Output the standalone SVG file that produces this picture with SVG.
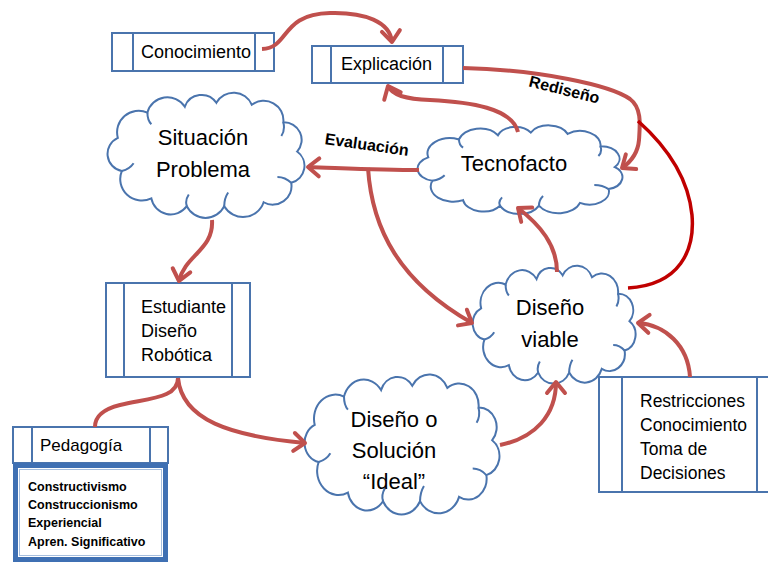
<svg xmlns="http://www.w3.org/2000/svg" width="768" height="562" viewBox="0 0 768 562">
  <style>
    .box { fill: #ffffff; stroke: #4A74AD; stroke-width: 2; }
    .bar { fill: none; stroke: #4A74AD; stroke-width: 2; }
    .cloud { fill: #ffffff; stroke: #4A74AD; stroke-width: 2; }
    .curl { fill: none; stroke: #4A74AD; stroke-width: 2; }
    .t { font-family: "Liberation Sans", Arial, sans-serif; fill: #000000; }
    .lbl { font-family: "Liberation Sans", Arial, sans-serif; font-weight: bold; font-size: 16px; fill: #000000; }
    .ed { fill: none; stroke: #C0504D; stroke-width: 4; stroke-linecap: butt; }
    .dark { fill: none; stroke: #C00000; stroke-width: 3.5; }
  </style>
  <defs>
    <marker id="arr" markerUnits="userSpaceOnUse" markerWidth="20" markerHeight="24" viewBox="-14 -12 18 24" refX="0" refY="0" orient="auto" style="overflow:visible">
      <path d="M -11 -9 L 0 0 L -11 9" fill="none" stroke="#C0504D" stroke-width="4" stroke-linejoin="round" stroke-linecap="round"/>
    </marker>
    <!-- cloud outline in a 200 x 120 box -->
    <path id="cloudShape" vector-effect="non-scaling-stroke" d="M 14 78 A 18 18 0 0 1 10 44 A 22 22 0 0 1 40 18 A 21 21 0 0 1 78 12 A 18 18 0 0 1 110 8 A 20 20 0 0 1 146 10 A 20 20 0 0 1 178 28 A 18 18 0 0 1 192 58 A 18 18 0 0 1 186 90 A 19 19 0 0 1 158 110 A 22 22 0 0 1 118 114 A 21 21 0 0 1 80 114 A 20 20 0 0 1 44 106 A 22 22 0 0 1 14 78 Z"/>
    <path id="cloudCurl" vector-effect="non-scaling-stroke" d="M 14 78 Q 22 76 26 70 M 40 18 Q 40 26 44 30 M 178 28 Q 180 36 176 42 M 186 90 Q 180 84 172 84 M 118 114 Q 118 106 122 100 M 80 114 Q 78 108 82 102"/>
  </defs>

  <!-- nodes -->
  <g id="conocimiento">
    <rect class="box" x="112" y="33" width="162" height="38"/>
    <path class="bar" d="M 133 33 V 71 M 255 33 V 71"/>
    <text class="t" x="141" y="58" font-size="18">Conocimiento</text>
  </g>

  <g id="explicacion">
    <rect class="box" x="312" y="46" width="151" height="37"/>
    <path class="bar" d="M 331 46 V 83 M 443 46 V 83"/>
    <text class="t" x="341" y="70" font-size="18">Explicación</text>
  </g>

  <g id="situacion-problema">
    <use href="#cloudShape" class="cloud" transform="translate(108 95) scale(0.985 0.975)"/>
    <use href="#cloudCurl" class="curl" transform="translate(108 95) scale(0.985 0.975)"/>
    <text class="t" x="203" y="145" font-size="22" text-anchor="middle">Situación</text>
    <text class="t" x="203" y="177" font-size="22" text-anchor="middle">Problema</text>
  </g>

  <g id="tecnofacto">
    <use href="#cloudShape" class="cloud" transform="translate(418 127) scale(1.025 0.69)"/>
    <use href="#cloudCurl" class="curl" transform="translate(418 127) scale(1.025 0.69)"/>
    <text class="t" x="514" y="171" font-size="22" text-anchor="middle">Tecnofacto</text>
  </g>

  <g id="diseno-viable">
    <use href="#cloudShape" class="cloud" transform="translate(473 268) scale(0.815 0.917)"/>
    <use href="#cloudCurl" class="curl" transform="translate(473 268) scale(0.815 0.917)"/>
    <text class="t" x="550" y="315" font-size="22" text-anchor="middle">Diseño</text>
    <text class="t" x="550" y="347" font-size="22" text-anchor="middle">viable</text>
  </g>

  <g id="diseno-ideal">
    <use href="#cloudShape" class="cloud" transform="translate(305 377) scale(0.975 1.09)"/>
    <use href="#cloudCurl" class="curl" transform="translate(305 377) scale(0.975 1.09)"/>
    <text class="t" x="394" y="427" font-size="22" text-anchor="middle">Diseño o</text>
    <text class="t" x="394" y="458" font-size="22" text-anchor="middle">Solución</text>
    <text class="t" x="394" y="489" font-size="22" text-anchor="middle">“Ideal”</text>
  </g>

  <g id="estudiante">
    <rect class="box" x="106" y="283" width="144" height="94"/>
    <path class="bar" d="M 124 283 V 377 M 232 283 V 377"/>
    <text class="t" x="141" y="313" font-size="18">Estudiante</text>
    <text class="t" x="141" y="337" font-size="18">Diseño</text>
    <text class="t" x="141" y="361" font-size="18">Robótica</text>
  </g>

  <g id="pedagogia">
    <rect class="box" x="13" y="427" width="155" height="36"/>
    <path class="bar" d="M 32 427 V 463 M 150 427 V 463"/>
    <text class="t" x="40" y="451" font-size="17">Pedagogía</text>
    <rect x="15.5" y="465.5" width="150" height="94" fill="#ffffff" stroke="#3F70B3" stroke-width="5"/>
    <rect x="19.5" y="469.5" width="142" height="86" fill="none" stroke="#A7BFDE" stroke-width="1"/>
    <text class="t" x="28" y="491" font-size="12.5" font-weight="bold">Constructivismo</text>
    <text class="t" x="28" y="509" font-size="12.5" font-weight="bold">Construccionismo</text>
    <text class="t" x="28" y="527" font-size="12.5" font-weight="bold">Experiencial</text>
    <text class="t" x="28" y="546" font-size="12.5" font-weight="bold">Apren. Significativo</text>
  </g>

  <g id="restricciones">
    <rect class="box" x="599" y="377" width="175" height="115"/>
    <path class="bar" d="M 622 377 V 492 M 757 377 V 492"/>
    <text class="t" x="640" y="407" font-size="17.5">Restricciones</text>
    <text class="t" x="640" y="431" font-size="17.5">Conocimiento</text>
    <text class="t" x="640" y="455" font-size="17.5">Toma de</text>
    <text class="t" x="640" y="479" font-size="17.5">Decisiones</text>
  </g>

  <!-- connectors -->
  <g id="connectors">
    <path class="ed" marker-end="url(#arr)" d="M 262 49 C 290 48 280 14 330 13 C 365 12 390 22 392 42"/>
    <path class="ed" marker-end="url(#arr)" d="M 518 132 C 512 108 470 102 430 100 C 405 99 392 95 388 86"/>
    <path class="ed" marker-end="url(#arr)" d="M 463 68 C 540 70 610 85 630 99 C 642 108 640 125 639 140 C 638 152 632 161 622 168"/>
    <path class="dark" d="M 628 288 C 680 285 695 250 692 215 C 688 175 665 145 638 121"/>
    <path class="ed" marker-end="url(#arr)" d="M 419 170 C 380 170 340 168 308 167"/>
    <path class="ed" marker-end="url(#arr)" d="M 368 168 C 372 230 400 282 472 323"/>
    <path class="ed" marker-end="url(#arr)" d="M 557 272 C 557 245 540 225 518 208"/>
    <path class="ed" marker-end="url(#arr)" d="M 212 220 C 214 250 185 255 179 281"/>
    <path class="ed" d="M 178 378 C 178 398 150 398 120 405 C 100 410 95 418 95 427"/>
    <path class="ed" marker-end="url(#arr)" d="M 178 378 C 182 420 230 436 305 443"/>
    <path class="ed" marker-end="url(#arr)" d="M 500 445 C 535 438 556 415 556 382"/>
    <path class="ed" marker-end="url(#arr)" d="M 690 377 C 688 345 665 325 638 323"/>
    <text class="lbl" transform="translate(366 150) rotate(8)" text-anchor="middle">Evaluación</text>
    <text class="lbl" transform="translate(563 95) rotate(14)" text-anchor="middle">Rediseño</text>
  </g>
</svg>
